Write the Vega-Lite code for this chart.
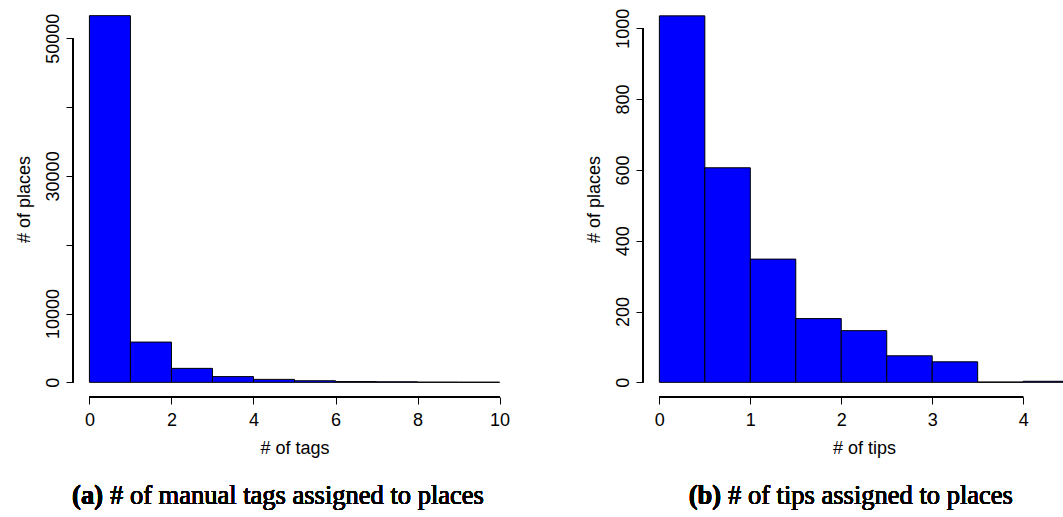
{
  "$schema": "https://vega.github.io/schema/vega-lite/v6.json",
  "background": "white",
  "padding": {"left": 15, "top": 1, "right": 0, "bottom": 0},
  "bounds": "flush",
  "spacing": 127,
  "config": {
    "view": {"stroke": null},
    "axis": {
      "domain": false, "grid": false, "tickColor": "black", "tickSize": 7, "tickWidth": 1,
      "labelColor": "black", "labelFont": "Liberation Sans", "labelFontSize": 18,
      "titleFont": "Liberation Sans", "titleFontSize": 18, "titleFontWeight": "normal", "titleColor": "black",
      "labelOverlap": false, "labelFlush": false, "labelBound": false, "format": "d"
    }
  },
  "datasets": {
    "tags": [
      {"lo": 0, "hi": 1, "n": 53280},
      {"lo": 1, "hi": 2, "n": 5850},
      {"lo": 2, "hi": 3, "n": 2030},
      {"lo": 3, "hi": 4, "n": 830},
      {"lo": 4, "hi": 5, "n": 430},
      {"lo": 5, "hi": 6, "n": 230},
      {"lo": 6, "hi": 7, "n": 110},
      {"lo": 7, "hi": 8, "n": 80},
      {"lo": 8, "hi": 9, "n": 30},
      {"lo": 9, "hi": 10, "n": 20}
    ],
    "tips": [
      {"lo": 0, "hi": 0.5, "n": 1035},
      {"lo": 0.5, "hi": 1, "n": 606},
      {"lo": 1, "hi": 1.5, "n": 348},
      {"lo": 1.5, "hi": 2, "n": 180},
      {"lo": 2, "hi": 2.5, "n": 146},
      {"lo": 2.5, "hi": 3, "n": 75},
      {"lo": 3, "hi": 3.5, "n": 58},
      {"lo": 3.5, "hi": 4, "n": 1},
      {"lo": 4, "hi": 4.5, "n": 3}
    ]
  },
  "hconcat": [
    {
      "width": 443, "height": 396,
      "data": {"name": "tags"},
      "layer": [
        {
          "mark": {"type": "bar", "fill": "#0000ff", "stroke": "black", "strokeWidth": 1},
          "encoding": {
            "x": {"field": "lo", "type": "quantitative",
              "scale": {"domain": [-0.4, 10.4], "nice": false, "zero": false},
              "axis": {"values": [0, 2, 4, 6, 8, 10], "format": "d", "title": "# of tags", "labelPadding": 21, "labelBaseline": "alphabetic", "titleY": 56, "titleBaseline": "alphabetic"}},
            "x2": {"field": "hi"},
            "y": {"field": "n", "type": "quantitative",
              "scale": {"domain": [-2131, 55411], "nice": false, "zero": false},
              "axis": {"values": [0, 10000, 20000, 30000, 40000, 50000],
                "labelExpr": "datum.value == 20000 || datum.value == 40000 ? '' : format(datum.value, 'd')",
                "labelAngle": 270, "labelAlign": "center", "labelBaseline": "alphabetic", "labelPadding": 8,
                "title": "# of places", "titleX": -44, "titleY": 198, "titleBaseline": "alphabetic"}},
            "y2": {"datum": 0}
          }
        },
        {"mark": {"type": "rule", "color": "black", "strokeWidth": 1},
         "encoding": {"x": {"datum": -0.4}, "y": {"datum": 0}, "y2": {"datum": 50000}}},
        {"mark": {"type": "rule", "color": "black", "strokeWidth": 1},
         "encoding": {"y": {"datum": -2131}, "x": {"datum": 0}, "x2": {"datum": 10}}},
        {"mark": {"type": "text", "font": "Liberation Serif", "fontSize": 26.5, "fontWeight": "bold", "align": "right", "baseline": "alphabetic", "text": "(a)", "color": "black"},
         "encoding": {"x": {"datum": 0.332}, "y": {"datum": -17707}}},
        {"mark": {"type": "text", "font": "Liberation Serif", "fontSize": 26.5, "align": "left", "baseline": "alphabetic", "dx": 7, "text": "# of manual tags assigned to places", "color": "black"},
         "encoding": {"x": {"datum": 0.332}, "y": {"datum": -17707}}}
      ]
    },
    {
      "width": 442, "height": 396,
      "data": {"name": "tips"},
      "layer": [
        {
          "mark": {"type": "bar", "fill": "#0000ff", "stroke": "black", "strokeWidth": 1},
          "encoding": {
            "x": {"field": "lo", "type": "quantitative",
              "scale": {"domain": [-0.18, 4.68], "nice": false, "zero": false},
              "axis": {"values": [0, 1, 2, 3, 4], "format": "d", "title": "# of tips", "labelPadding": 21, "labelBaseline": "alphabetic", "titleY": 56, "titleBaseline": "alphabetic"}},
            "x2": {"field": "hi"},
            "y": {"field": "n", "type": "quantitative",
              "scale": {"domain": [-41.4, 1077], "nice": false, "zero": false},
              "axis": {"values": [0, 200, 400, 600, 800, 1000], "format": "d",
                "labelAngle": 270, "labelAlign": "center", "labelBaseline": "alphabetic", "labelPadding": 8,
                "title": "# of places", "titleX": -44, "titleY": 198, "titleBaseline": "alphabetic"}},
            "y2": {"datum": 0}
          }
        },
        {"mark": {"type": "rule", "color": "black", "strokeWidth": 1},
         "encoding": {"x": {"datum": -0.18}, "y": {"datum": 0}, "y2": {"datum": 1000}}},
        {"mark": {"type": "rule", "color": "black", "strokeWidth": 1},
         "encoding": {"y": {"datum": -41.4}, "x": {"datum": 0}, "x2": {"datum": 4}}},
        {"mark": {"type": "text", "font": "Liberation Serif", "fontSize": 26.5, "fontWeight": "bold", "align": "right", "baseline": "alphabetic", "text": "(b)", "color": "black"},
         "encoding": {"x": {"datum": 0.678}, "y": {"datum": -344}}},
        {"mark": {"type": "text", "font": "Liberation Serif", "fontSize": 26.5, "align": "left", "baseline": "alphabetic", "dx": 7, "text": "# of tips assigned to places", "color": "black"},
         "encoding": {"x": {"datum": 0.678}, "y": {"datum": -344}}}
      ]
    }
  ]
}
